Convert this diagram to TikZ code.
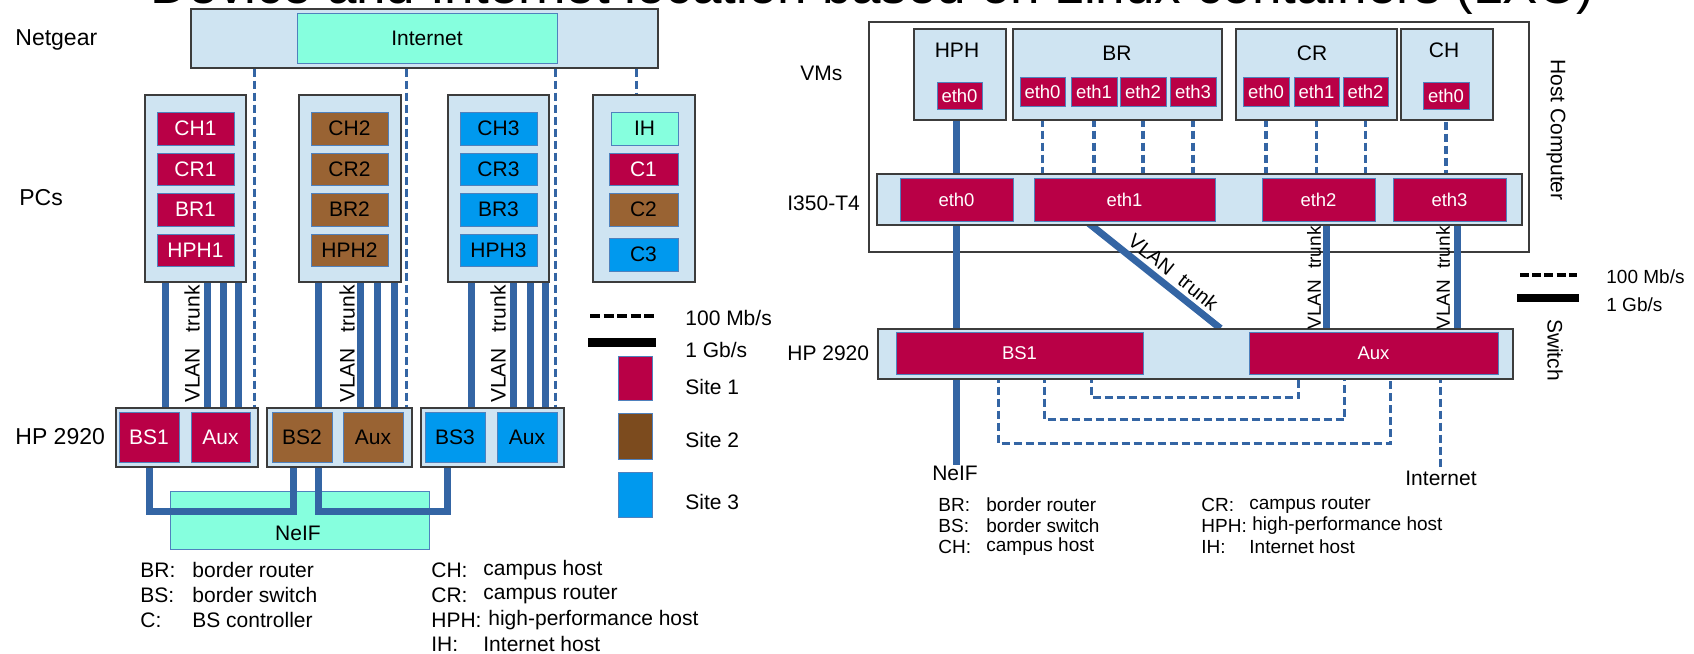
\documentclass[tikz,border=0pt]{standalone}
\usepackage{fontspec}
\setmainfont{Liberation Sans}
\usetikzlibrary{calc}
\pgfdeclarelayer{back}
\pgfdeclarelayer{mid}
\pgfsetlayers{back,mid,main}
\definecolor{boxbg}{RGB}{207,228,242}
\definecolor{siteone}{RGB}{185,0,70}
\definecolor{sitetwo}{RGB}{153,99,51}
\definecolor{sitetwol}{RGB}{124,75,30}
\definecolor{sitethree}{RGB}{0,153,238}
\definecolor{aqua}{RGB}{134,255,222}
\definecolor{lblue}{RGB}{52,101,164}
\definecolor{edgeb}{RGB}{79,129,189}
\definecolor{frame}{RGB}{60,60,60}
\newcommand\bx[7]{\node[#6, minimum width={(#4-#2)*0.5pt}, minimum height={(#5-#3)*0.5pt}] (#1) at ({(#2+#4)/2},{(#3+#5)/2}) {#7};}
\begin{document}
\begin{tikzpicture}[x=0.5pt,y=-0.5pt,
  outer/.style={draw=frame, fill=boxbg, line width=0.6pt, inner sep=0pt},
  hostbox/.style={draw=frame, fill=white, line width=0.6pt, inner sep=0pt},
  inner/.style={draw=edgeb, line width=0.5pt, inner sep=0pt, font=\fontsize{10.5}{12}\selectfont},
  sa/.style={inner, fill=siteone, text=white},
  sb/.style={inner, fill=sitetwo},
  sc/.style={inner, fill=sitethree},
  aq/.style={inner, fill=aqua},
  eth/.style={inner, fill=siteone, text=white, font=\fontsize{9.25}{11}\selectfont},
  gb/.style={line width=3.5pt, draw=lblue},
  mb/.style={line width=1.8pt, draw=lblue, dash pattern=on 4pt off 2pt},
  big/.style={anchor=west, inner sep=0pt, font=\fontsize{11.5}{13}\selectfont},
  txt/.style={inner sep=0pt, font=\fontsize{10.5}{12}\selectfont},
  sml/.style={inner sep=0pt, font=\fontsize{9.5}{11}\selectfont},
  lg/.style={anchor=west, inner sep=0pt, font=\fontsize{10.5}{12}\selectfont},
  lgs/.style={anchor=west, inner sep=0pt, font=\fontsize{9.5}{11}\selectfont}
]
\useasboundingbox (0,0) rectangle (1694,654);

% title (cut by the page edge)
\node[anchor=base west, inner sep=0pt, font=\fontsize{26.5}{30}\selectfont] (title) at (150,3) {Device and Internet location based on Linux containers (LXC)};

% ================= LEFT =================
\node[big] (lnet) at (15,40) {Netgear};
\node[big] (lpcs) at (19,198) {PCs};
\node[big] (lhp) at (15,437) {HP 2920};

\bx{netgear}{191}{9}{658}{68}{outer}{}
\bx{inet}{297}{13}{557}{63}{aq}{Internet}

\bx{pc1}{145}{95}{246}{282}{outer}{}
\bx{pc2}{299}{95}{401}{282}{outer}{}
\bx{pc3}{448}{95}{549}{282}{outer}{}
\bx{pc4}{593}{95}{695}{282}{outer}{}

\bx{ch1}{157}{112}{234}{145}{sa}{CH1}
\bx{cr1}{157}{153}{234}{185}{sa}{CR1}
\bx{br1}{157}{193}{234}{226}{sa}{BR1}
\bx{hph1}{157}{234}{234}{266}{sa}{HPH1}
\bx{ch2}{311}{112}{388}{145}{sb}{CH2}
\bx{cr2}{311}{153}{388}{185}{sb}{CR2}
\bx{br2}{311}{193}{388}{226}{sb}{BR2}
\bx{hph2}{311}{234}{388}{266}{sb}{HPH2}
\bx{ch3}{460}{112}{537}{145}{sc}{CH3}
\bx{cr3}{460}{153}{537}{185}{sc}{CR3}
\bx{br3}{460}{193}{537}{226}{sc}{BR3}
\bx{hph3}{460}{234}{537}{266}{sc}{HPH3}
\bx{ih}{611}{112}{678}{145}{aq}{IH}
\bx{c1}{609}{153}{678}{185}{sa}{C1}
\bx{c2}{609}{193}{678}{226}{sb}{C2}
\bx{c3}{609}{238}{678}{271}{sc}{C3}

\bx{hp1}{116}{408}{258}{467}{outer}{}
\bx{hp2}{267}{408}{412}{467}{outer}{}
\bx{hp3}{421}{408}{564}{467}{outer}{}
\bx{bs1}{119}{412}{179}{462}{sa}{BS1}
\bx{aux1}{191}{412}{250}{462}{sa}{Aux}
\bx{bs2}{272}{412}{332}{462}{sb}{BS2}
\bx{aux2}{343}{412}{403}{462}{sb}{Aux}
\bx{bs3}{425}{412}{485}{462}{sc}{BS3}
\bx{aux3}{497}{412}{557}{462}{sc}{Aux}

\begin{pgfonlayer}{back}
\bx{neif}{170}{491}{429}{549}{aq}{}
\end{pgfonlayer}
\node[txt] (neiflab) at (298,533) {NeIF};

\begin{pgfonlayer}{mid}
% dashed from Netgear
\foreach \dx/\tgt in {32pt/hp1,108pt/hp2,182.5pt/hp3,223pt/pc4}{
  \coordinate (t) at ([xshift=\dx]netgear.south west);
  \draw[mb] (t) -- (t |- \tgt.north);
}
% 1 Gb/s lines PCs -> switches
\foreach \dx in {10.5pt,31.5pt,39.5pt,47pt}{
  \coordinate (t) at ([xshift=\dx]pc1.south west);
  \draw[gb] (t) -- (t |- hp1.north);}
\foreach \dx in {10pt,31pt,39.5pt,48pt}{
  \coordinate (t) at ([xshift=\dx]pc2.south west);
  \draw[gb] (t) -- (t |- hp2.north);}
\foreach \dx in {12pt,33pt,41.5pt,49pt}{
  \coordinate (t) at ([xshift=\dx]pc3.south west);
  \draw[gb] (t) -- (t |- hp3.north);}
% NeIF connections
\coordinate (u1) at ([xshift=-4.5pt]bs2.south);
\coordinate (u2) at ([xshift=8pt]bs2.south);
\coordinate (u3) at ([xshift=-4pt]bs3.south);
\draw[gb, line join=miter] (bs1.south) -- ++(0,49) -| (u1);
\draw[gb, line join=miter] (u2) -- ++(0,49) -| (u3);
\end{pgfonlayer}

\node[txt, rotate=90] (vl1) at (192,344) {VLAN\hspace{5pt} trunk};
\node[txt, rotate=90] (vl2) at (347,344) {VLAN\hspace{5pt} trunk};
\node[txt, rotate=90] (vl3) at (498,344) {VLAN\hspace{5pt} trunk};

% left legend
\coordinate (lga) at (590,316); \coordinate (lgb) at (654,316);
\draw[line width=2pt, dash pattern=on 5pt off 1.75pt] (lga) -- (lgb);
\coordinate (lgc) at (588,342); \coordinate (lgd) at (656,342);
\draw[line width=4.5pt] (lgc) -- (lgd);
\bx{lsa}{618}{356}{652}{400}{inner,fill=siteone}{}
\bx{lsb}{618}{413}{652}{459}{inner,fill=sitetwol}{}
\bx{lsc}{618}{472}{652}{517}{inner,fill=sitethree}{}
\node[lg] (t100) at (685,318) {100 Mb/s};
\node[lg] (t1g) at (685,350) {1 Gb/s};
\node[lg] (ts1) at (685,387) {Site 1};
\node[lg] (ts2) at (685,440) {Site 2};
\node[lg] (ts3) at (685,502) {Site 3};

\node[lg] at (140,570) {BR:};
\node[lg] at (192,570) {border router};
\node[lg] at (140,595) {BS:};
\node[lg] at (192,595) {border switch};
\node[lg] at (140,620) {C:};
\node[lg] at (192,620) {BS controller};
\node[lg] at (431,570) {CH:};
\node[lg] at (483,570) {campus host};
\node[lg] at (431,595) {CR:};
\node[lg] at (483,595) {campus router};
\node[lg] at (431,620) {HPH:};
\node[lg] at (488,620) {high-performance host};
\node[lg] at (431,644) {IH:};
\node[lg] at (483,644) {Internet host};

% ================= RIGHT =================
\node[txt, anchor=west] (lvms) at (800,73) {VMs};
\node[txt, anchor=west] (li350) at (787,203) {I350-T4};
\node[txt, anchor=west] (lhp2) at (787,353) {HP 2920};

\begin{pgfonlayer}{back}
\bx{host}{869}{22}{1529}{252}{hostbox}{}
\end{pgfonlayer}
\node[txt, rotate=-90] (lhost) at (1556,130) {Host Computer};

\bx{vhph}{914}{29}{1006}{120}{outer}{}
\bx{vbr}{1013}{29}{1222}{120}{outer}{}
\bx{vcr}{1236}{29}{1397}{120}{outer}{}
\bx{vch}{1401}{29}{1493}{120}{outer}{}
\node[txt] at (957,50) {HPH};
\node[txt] at (1117,53) {BR};
\node[txt] at (1312,53) {CR};
\node[txt] at (1444,50) {CH};

\bx{hpheth}{937}{82}{982}{109}{eth}{eth0}
\bx{breth0}{1020}{77}{1065}{106}{eth}{eth0}
\bx{breth1}{1071}{77}{1117}{106}{eth}{eth1}
\bx{breth2}{1120}{77}{1166}{106}{eth}{eth2}
\bx{breth3}{1170}{77}{1216}{106}{eth}{eth3}
\bx{creth0}{1243}{77}{1289}{106}{eth}{eth0}
\bx{creth1}{1294}{77}{1339}{106}{eth}{eth1}
\bx{creth2}{1343}{77}{1388}{106}{eth}{eth2}
\bx{cheth}{1423}{82}{1469}{109}{eth}{eth0}

\bx{i350}{877}{174}{1522}{225}{outer}{}
\bx{ieth0}{900}{178}{1013}{221}{eth}{eth0}
\bx{ieth1}{1034}{178}{1215}{221}{eth}{eth1}
\bx{ieth2}{1262}{178}{1375}{221}{eth}{eth2}
\bx{ieth3}{1393}{178}{1506}{221}{eth}{eth3}

\bx{sw}{878}{329}{1513}{379}{outer}{}
\bx{sbs1}{896}{332}{1143}{374}{eth}{BS1}
\bx{saux}{1249}{332}{1498}{374}{eth}{Aux}
\node[txt, rotate=-90] (lsw) at (1555,350) {Switch};

\node[txt] (neifr) at (955,473) {NeIF};
\node[txt] (inetr) at (1441,478) {Internet};

\begin{pgfonlayer}{mid}
\draw[gb] (ieth0 |- vhph.south) -- (ieth0 |- neifr.north);
\foreach \e in {breth0,breth1,breth2,breth3,creth0,creth1,creth2,cheth}{
  \draw[mb] (\e.south) -- (\e.south |- i350.north);}
\coordinate (e2) at ([xshift=3.75pt]ieth2.south);
\coordinate (e3) at ([xshift=3.75pt]ieth3.south);
\draw[gb] (e2) -- (e2 |- sw.north);
\draw[gb] (e3) -- (e3 |- sw.north);
\coordinate (d1) at ([xshift=26.5pt]ieth1.south west);
\coordinate (d2) at ([xshift=171.5pt]sw.north west);
\draw[gb] (d1) -- node[sloped, above, pos=0.58, inner sep=2pt, font=\fontsize{10}{12}\selectfont] (vld) {VLAN\hspace{3pt} trunk} (d2);
\coordinate (p1) at ([xshift=98pt]sbs1.south west);
\coordinate (q1) at ([xshift=25pt]saux.south west);
\coordinate (p2) at ([xshift=74.5pt]sbs1.south west);
\coordinate (q2) at ([xshift=48pt]saux.south west);
\coordinate (p3) at ([xshift=51.5pt]sbs1.south west);
\coordinate (q3) at ([xshift=71pt]saux.south west);
\coordinate (q4) at ([xshift=96pt]saux.south west);
\draw[mb] (p1) -- ++(0,23) -| (q1);
\draw[mb] (p2) -- ++(0,45) -| (q2);
\draw[mb] (p3) -- ++(0,69) -| (q3);
\draw[mb] (q4) -- (q4 |- inetr.north);
\end{pgfonlayer}

\node[sml, rotate=90] (vle2) at (1314,278) {VLAN\hspace{3pt} trunk};
\node[sml, rotate=90] (vle3) at (1443,278) {VLAN\hspace{3pt} trunk};

% right legend
\coordinate (rga) at (1520,275); \coordinate (rgb) at (1577,275);
\draw[line width=2pt, dash pattern=on 4.5pt off 1.6pt] (rga) -- (rgb);
\coordinate (rgc) at (1517,298); \coordinate (rgd) at (1579,298);
\draw[line width=4pt] (rgc) -- (rgd);
\node[lgs] (r100) at (1606,277) {100 Mb/s};
\node[lgs] (r1g) at (1606,305) {1 Gb/s};

\node[lgs] at (938,505) {BR:};
\node[lgs] at (986,505) {border router};
\node[lgs] at (938,526) {BS:};
\node[lgs] at (986,526) {border switch};
\node[lgs] at (938,547) {CH:};
\node[lgs] at (986,547) {campus host};
\node[lgs] at (1201,505) {CR:};
\node[lgs] at (1249,505) {campus router};
\node[lgs] at (1201,526) {HPH:};
\node[lgs] at (1252,526) {high-performance host};
\node[lgs] at (1201,547) {IH:};
\node[lgs] at (1249,547) {Internet host};
\end{tikzpicture}
\end{document}
